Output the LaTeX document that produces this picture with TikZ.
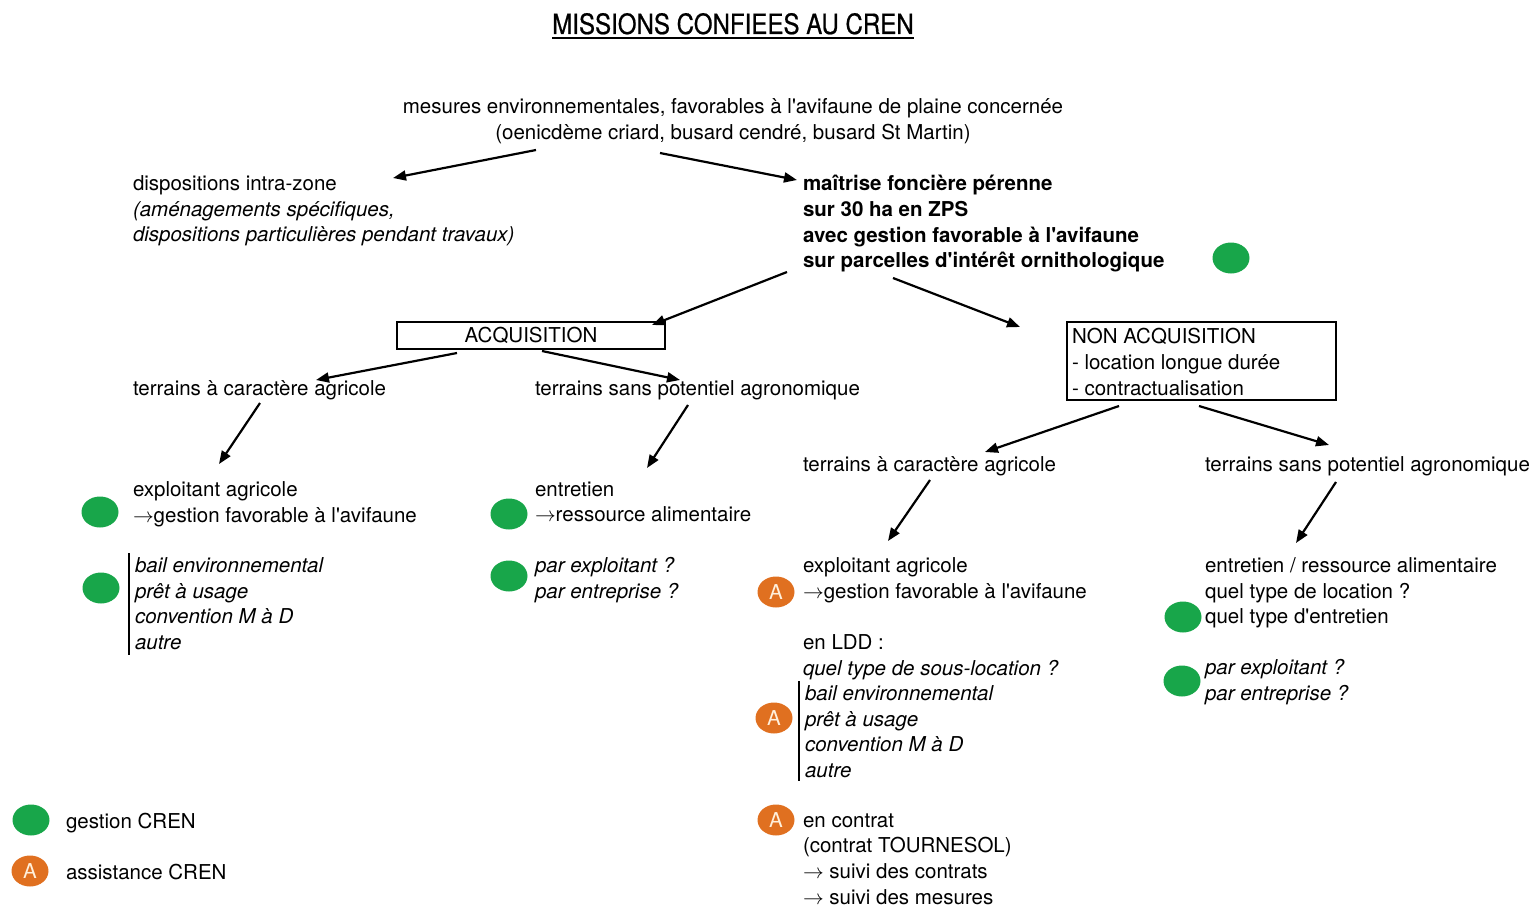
\documentclass[tikz,border=0pt]{standalone}
\usepackage{fontspec}
\setmainfont{TeX Gyre Heros}[Ligatures=TeXOff]
\newfontfamily\titlefont[FakeStretch=0.86,FakeBold=0.6]{TeX Gyre Heros}
\usetikzlibrary{arrows.meta,shapes.geometric}
\definecolor{cgreen}{RGB}{24,166,74}
\definecolor{corange}{RGB}{224,112,32}
\definecolor{aletter}{RGB}{255,240,220}
\newcommand{\fs}{\fontsize{20.5}{25.6}\selectfont}
\begin{document}
\begin{tikzpicture}[x=1pt,y=-1pt,
  txt/.style={anchor=north west, inner sep=0pt, outer sep=0pt, align=left, font=\fs, yshift=7.5pt, execute at begin node=\strut},
  ctxt/.style={anchor=north, inner sep=0pt, outer sep=0pt, align=center, font=\fs, yshift=7.5pt, execute at begin node=\strut},
  gdot/.style={ellipse, fill=cgreen, minimum width=37pt, minimum height=31pt, inner sep=0pt},
  adot/.style={ellipse, fill=corange, minimum width=37pt, minimum height=31pt, inner sep=0pt, text=aletter, font=\fs},
  arr/.style={line width=2.2pt, -{Triangle[length=13pt,width=10pt]}},
  box/.style={draw, line width=2.8pt, inner sep=0pt},
  bar/.style={line width=2.6pt}]
\useasboundingbox (0,0) rectangle (1539,907);

% title
\node[font=\titlefont\fontsize{28}{30}\selectfont, inner sep=0pt, anchor=base] (title) at (733,34) {MISSIONS CONFIEES AU CREN};
\draw[line width=2.6pt] ([yshift=-4pt]title.base west) -- ([yshift=-4pt]title.base east);

% top
\node[ctxt] (mes) at (733,106) {mesures environnementales, favorables à l'avifaune de plaine concernée\\(oenicdème criard, busard cendré, busard St Martin)};

\node[txt] (disp) at (133,183) {dispositions intra-zone\\\textit{(aménagements spécifiques,}\\\textit{dispositions particulières pendant travaux)}};
\node[txt, font=\fs\bfseries] (maitr) at (803,183) {maîtrise foncière pérenne\\sur 30 ha en ZPS\\avec gestion favorable à l'avifaune\\sur parcelles d'intérêt ornithologique};
\node[gdot] (g0) at (1231,258) {};

% boxes
\node[box, minimum width=268pt, minimum height=27pt, font=\fs] (acq) at (531,335.5) {ACQUISITION};
\node[box, minimum width=269pt, minimum height=78pt] (nacq) at (1201.5,361) {};
\node[txt] (nacqt) at (1072,336) {NON ACQUISITION\\- location longue durée\\- contractualisation};

% level 3
\node[txt] (tl1) at (133,385) {terrains à caractère agricole};
\node[txt] (tl2) at (535,385) {terrains sans potentiel agronomique};
\node[txt] (tr1) at (803,461) {terrains à caractère agricole};
\node[txt] (tr2) at (1205,461) {terrains sans potentiel agronomique};

% left column
\node[txt] (expl1) at (133,489) {exploitant agricole\\$\rightarrow$gestion favorable à l'avifaune};
\node[gdot] (g1) at (100,512) {};
\node[txt, font=\fs\itshape] (bail1) at (135,565) {bail environnemental\\prêt à usage\\convention M à D\\autre};
\coordinate (b1t) at (129,553);
\coordinate (b1b) at (129,655);
\draw[bar] (b1t) -- (b1b);
\node[gdot] (g2) at (101,588) {};

% second column
\node[txt] (entr1) at (535,489) {entretien\\$\rightarrow$ressource alimentaire};
\node[gdot] (g3) at (509,514) {};
\node[txt, font=\fs\itshape] (par1) at (535,565) {par exploitant ?\\par entreprise ?};
\node[gdot] (g4) at (509,576) {};

% third column
\node[txt] (expl2) at (803,565) {exploitant agricole\\$\rightarrow$gestion favorable à l'avifaune};
\node[adot] (a1) at (776,592) {A};
\node[txt] (ldd) at (803,642) {en LDD :\\\textit{quel type de sous-location ?}};
\node[txt, font=\fs\itshape] (bail2) at (805,693) {bail environnemental\\prêt à usage\\convention M à D\\autre};
\coordinate (b2t) at (799,681);
\coordinate (b2b) at (799,781);
\draw[bar] (b2t) -- (b2b);
\node[adot] (a2) at (774,718) {A};
\node[adot] (a3) at (776,820) {A};
\node[txt] (contr) at (803,821) {en contrat\\(contrat TOURNESOL)\\$\rightarrow$ suivi des contrats\\$\rightarrow$ suivi des mesures};

% fourth column
\node[txt] (entr2) at (1205,565) {entretien / ressource alimentaire\\quel type de location ?\\quel type d'entretien};
\node[gdot] (g5) at (1183,617) {};
\node[txt, font=\fs\itshape] (par2) at (1205,667) {par exploitant ?\\par entreprise ?};
\node[gdot] (g6) at (1182,681) {};

% legend
\node[gdot] (lg) at (31,820) {};
\node[txt] (lgt) at (66,818) {gestion CREN};
\node[adot] (la) at (30,871) {A};
\node[txt] (lat) at (66,869) {assistance CREN};

% arrows
\coordinate (s1) at (536,150); \coordinate (e1) at (393,178);
\coordinate (s2) at (660,153); \coordinate (e2) at (797,180);
\coordinate (s3) at (787,272); \coordinate (e3) at (652,325);
\coordinate (s4) at (893,278); \coordinate (e4) at (1020,327);
\coordinate (s5) at (457,353); \coordinate (e5) at (316,380);
\coordinate (s6) at (542,351); \coordinate (e6) at (680,380);
\coordinate (s7) at (260,403); \coordinate (e7) at (219,464);
\coordinate (s8) at (688,405); \coordinate (e8) at (647,468);
\coordinate (s9) at (1119,406); \coordinate (e9) at (985,452);
\coordinate (s10) at (1199,406); \coordinate (e10) at (1329,445);
\coordinate (s11) at (930,480); \coordinate (e11) at (888,541);
\coordinate (s12) at (1336,482); \coordinate (e12) at (1296,543);
\foreach \i in {1,...,12} \draw[arr] (s\i) -- (e\i);
\end{tikzpicture}
\end{document}
